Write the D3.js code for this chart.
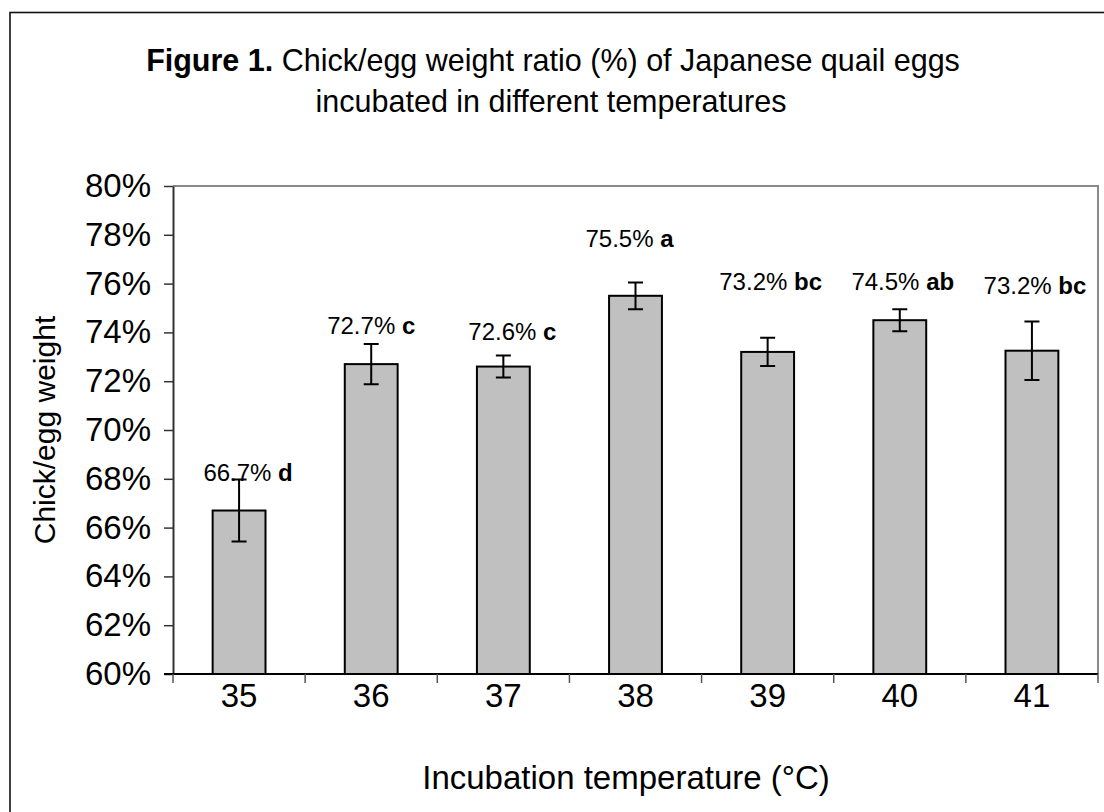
<!DOCTYPE html>
<html>
<head>
<meta charset="utf-8">
<script src="https://cdn.jsdelivr.net/npm/d3@7"></script>
<style>
  html, body { margin: 0; padding: 0; background: #fff; }
  svg { display: block; }
  text { font-family: "Liberation Sans", Arial, sans-serif; fill: #000; }
</style>
</head>
<body>
<svg id="chart" width="1104" height="812"></svg>
<script>
// ---- data ----
const categories = ["35", "36", "37", "38", "39", "40", "41"];
const means = [66.7, 72.7, 72.6, 75.5, 73.2, 74.5, 73.25];
const errors = [1.27, 0.82, 0.45, 0.55, 0.58, 0.45, 1.2];
const valueLabels = ["66.7%", "72.7%", "72.6%", "75.5%", "73.2%", "74.5%", "73.2%"];
const letters = ["d", "c", "c", "a", "bc", "ab", "bc"];
const yTicks = [60, 62, 64, 66, 68, 70, 72, 74, 76, 78, 80];

// ---- layout (manual label placement, px) ----
const labelDx = [9, 0, 9, -6, 3, 3, 3];
const labelDy = [30, 30, 27, 49, 62, 30, 57];

const W = 1104, H = 812;
const plot = { left: 173, right: 1098, top: 186, bottom: 674 };

const svg = d3.select("#chart");

// outer frame (extends beyond right/bottom edges)
svg.append("rect")
  .attr("x", 10).attr("y", 12.5)
  .attr("width", W + 20).attr("height", H + 20)
  .attr("fill", "#fff").attr("stroke", "#111").attr("stroke-width", 1.6);

// title
const title = svg.append("text")
  .attr("text-anchor", "middle")
  .style("font-size", "30.5px");
const t1 = title.append("tspan").attr("x", 553).attr("y", 71);
t1.append("tspan").style("font-weight", "bold").text("Figure 1.");
t1.append("tspan").text(" Chick/egg weight ratio (%) of Japanese quail eggs");
title.append("tspan").attr("x", 551).attr("y", 112).text("incubated in different temperatures");

// scales
const x = d3.scaleBand()
  .domain(categories)
  .range([plot.left, plot.right])
  .paddingInner(0.6)
  .paddingOuter(0.3);
const y = d3.scaleLinear().domain([60, 80]).range([plot.bottom, plot.top]);

// plot area border (top & right gray)
svg.append("path")
  .attr("d", `M${plot.left},${plot.top}H${plot.right}V${plot.bottom}`)
  .attr("fill", "none").attr("stroke", "#8a8a8a").attr("stroke-width", 2);

// bars
svg.append("g").selectAll("rect")
  .data(categories)
  .join("rect")
  .attr("x", d => x(d))
  .attr("y", (d, i) => y(means[i]))
  .attr("width", x.bandwidth())
  .attr("height", (d, i) => y(60) - y(means[i]))
  .attr("fill", "#c0c0c0")
  .attr("stroke", "#000")
  .attr("stroke-width", 2);

// error bars
const eb = svg.append("g").attr("stroke", "#000").attr("stroke-width", 2).attr("fill", "none");
categories.forEach((c, i) => {
  const cx = x(c) + x.bandwidth() / 2;
  const yt = y(means[i] + errors[i]);
  const yb = y(means[i] - errors[i]);
  eb.append("path")
    .attr("d", `M${cx},${yt}V${yb}M${cx - 7.5},${yt}H${cx + 7.5}M${cx - 7.5},${yb}H${cx + 7.5}`);
});

// data labels
categories.forEach((c, i) => {
  const cx = x(c) + x.bandwidth() / 2 + labelDx[i];
  const t = svg.append("text")
    .attr("x", cx)
    .attr("y", y(means[i]) - labelDy[i])
    .attr("text-anchor", "middle")
    .style("font-size", "24px");
  t.append("tspan").text(valueLabels[i] + " ");
  t.append("tspan").style("font-weight", "bold").text(letters[i]);
});

// y axis
const yAxis = svg.append("g")
  .attr("transform", `translate(${plot.left},0)`)
  .call(d3.axisLeft(y).tickValues(yTicks).tickFormat(d => d + "%").tickSize(9).tickPadding(13).tickSizeOuter(0));
yAxis.select(".domain").attr("stroke", "#333").attr("stroke-width", 2);
yAxis.selectAll(".tick line").attr("stroke", "#333").attr("stroke-width", 1.5);
yAxis.selectAll(".tick text").style("font-size", "33px")
  .style("font-family", "'Liberation Sans', Arial, sans-serif").attr("fill", "#000");

// x axis baseline and boundary ticks
svg.append("line")
  .attr("x1", plot.left - 9).attr("x2", plot.right)
  .attr("y1", plot.bottom).attr("y2", plot.bottom)
  .attr("stroke", "#000").attr("stroke-width", 2);
const step = x.step();
const boundaries = d3.range(categories.length + 1).map(k => plot.left + k * step);
svg.append("g").selectAll("line")
  .data(boundaries)
  .join("line")
  .attr("x1", d => d).attr("x2", d => d)
  .attr("y1", plot.bottom).attr("y2", plot.bottom + 9)
  .attr("stroke", "#555").attr("stroke-width", 1.5);

// x tick labels
svg.append("g").selectAll("text")
  .data(categories)
  .join("text")
  .attr("x", d => x(d) + x.bandwidth() / 2)
  .attr("y", 707)
  .attr("text-anchor", "middle")
  .style("font-size", "33px")
  .text(d => d);

// axis titles
svg.append("text")
  .attr("x", 626).attr("y", 789)
  .attr("text-anchor", "middle")
  .style("font-size", "33px")
  .text("Incubation temperature (°C)");

svg.append("text")
  .attr("transform", `translate(55,430) rotate(-90)`)
  .attr("text-anchor", "middle")
  .style("font-size", "30px")
  .text("Chick/egg weight");
</script>
</body>
</html>
